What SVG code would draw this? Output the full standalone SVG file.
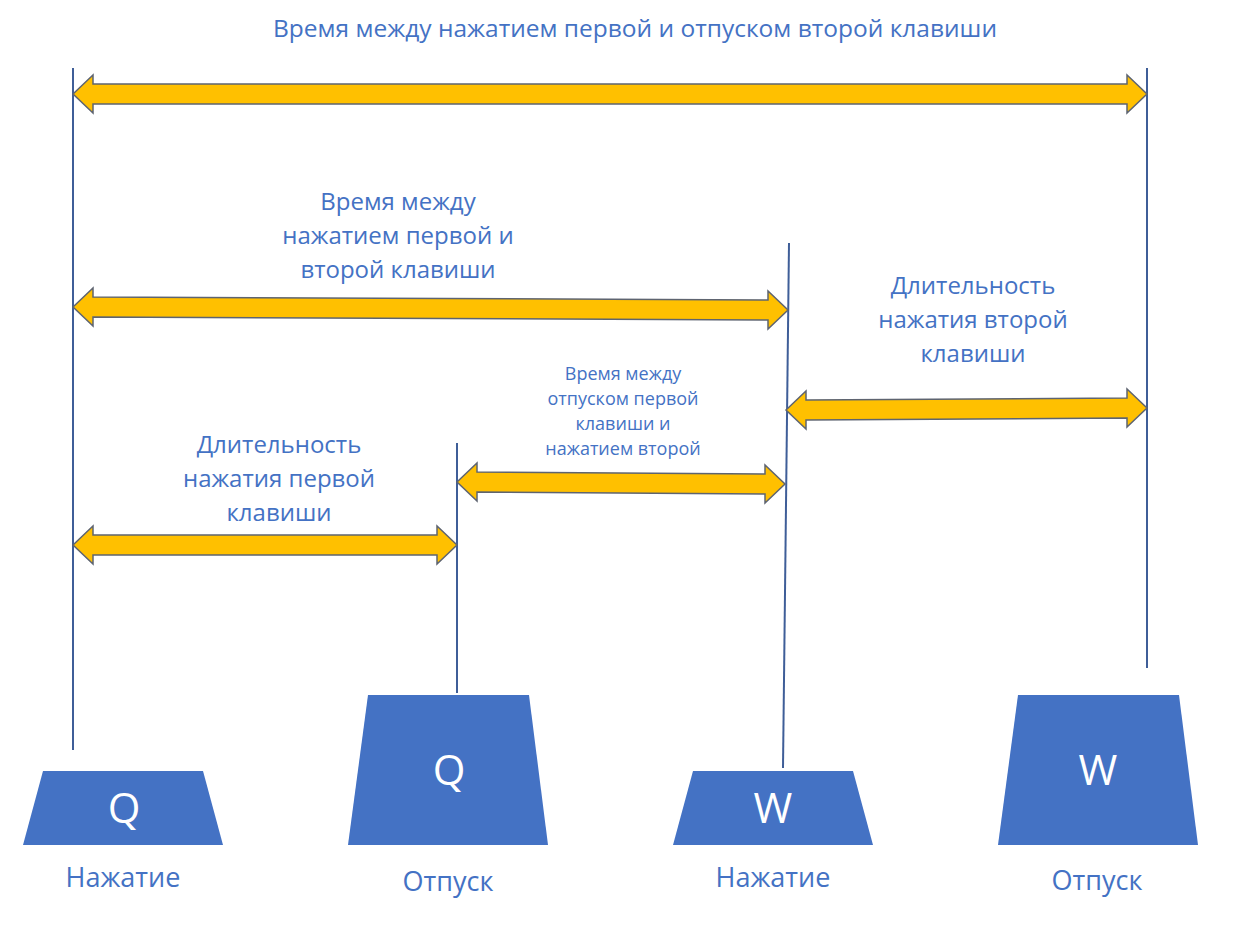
<svg xmlns="http://www.w3.org/2000/svg" width="1238" height="938" viewBox="0 0 1238 938">
<style>
.bg{fill:#ffffff}
.lbl{font-family:"Open Sans","Noto Sans","Liberation Sans",sans-serif;fill:#4472C4;text-anchor:middle}
.big{font-size:24px}
.ttl{font-size:24.5px}
.bot{font-size:27px}
.small{font-size:18px}
.key{fill:#4472C4}
.keytxt{font-family:"Open Sans","Noto Sans","Liberation Sans",sans-serif;fill:#ffffff;font-size:42px;text-anchor:middle}
.vline{stroke:#3F5E98;stroke-width:2;fill:none}
.arr{fill:#FFC000;stroke:#5E6470;stroke-width:1.5;stroke-linejoin:miter}
</style>
<rect class="bg" x="0" y="0" width="1238" height="938"/>
<g id="title">
<text class="lbl ttl" x="635" y="37">Время между нажатием первой и отпуском второй клавиши</text>
</g>
<g id="connectors">
<line class="vline" x1="73" y1="68" x2="73" y2="750"/>
<line class="vline" x1="1147" y1="68" x2="1147" y2="668"/>
<line class="vline" x1="457" y1="443" x2="457" y2="693"/>
<line class="vline" x1="789" y1="243" x2="783" y2="768"/>
<polygon class="arr" points="73,94 93,75 93,84 1127,84 1127,75 1147,94 1127,113 1127,104 93,104 93,113"/>
<polygon class="arr" points="73,307 93,288 93,297 768,300 768,291 788,310 768,329 768,320 93,317 93,326"/>
<polygon class="arr" points="786,410 806,391 806,400 1127,398 1127,389 1147,408 1127,427 1127,418 806,420 806,429"/>
<polygon class="arr" points="457,482 477,463 477,472 765,474 765,465 785,484 765,503 765,494 477,492 477,501"/>
<polygon class="arr" points="73,545 93,526 93,535 437,535 437,526 457,545 437,564 437,555 93,555 93,564"/>
</g>
<g id="label-press-interval">
<text class="lbl big" x="398" y="210">Время между</text>
<text class="lbl big" x="398" y="244">нажатием первой и</text>
<text class="lbl big" x="398" y="278">второй клавиши</text>
</g>
<g id="label-second-duration">
<text class="lbl big" x="973" y="294">Длительность</text>
<text class="lbl big" x="973" y="328">нажатия второй</text>
<text class="lbl big" x="973" y="362">клавиши</text>
</g>
<g id="label-gap">
<text class="lbl small" x="623" y="380">Время между</text>
<text class="lbl small" x="623" y="405">отпуском первой</text>
<text class="lbl small" x="623" y="430">клавиши и</text>
<text class="lbl small" x="623" y="455">нажатием второй</text>
</g>
<g id="label-first-duration">
<text class="lbl big" x="279" y="453">Длительность</text>
<text class="lbl big" x="279" y="487">нажатия первой</text>
<text class="lbl big" x="279" y="521">клавиши</text>
</g>
<g id="key-q-press">
<polygon class="key" points="43,771 203,771 223,845 23,845"/>
<text class="keytxt" x="124" y="823">Q</text>
<text class="lbl bot" x="123" y="887">Нажатие</text>
</g>
<g id="key-q-release">
<polygon class="key" points="368,695 529,695 548,845 348,845"/>
<text class="keytxt" x="449" y="785">Q</text>
<text class="lbl bot" x="448" y="891">Отпуск</text>
</g>
<g id="key-w-press">
<polygon class="key" points="693,771 853,771 873,845 673,845"/>
<text class="keytxt" x="773" y="823">W</text>
<text class="lbl bot" x="773" y="887">Нажатие</text>
</g>
<g id="key-w-release">
<polygon class="key" points="1018,695 1179,695 1198,845 998,845"/>
<text class="keytxt" x="1098" y="785">W</text>
<text class="lbl bot" x="1097" y="890">Отпуск</text>
</g>
</svg>
